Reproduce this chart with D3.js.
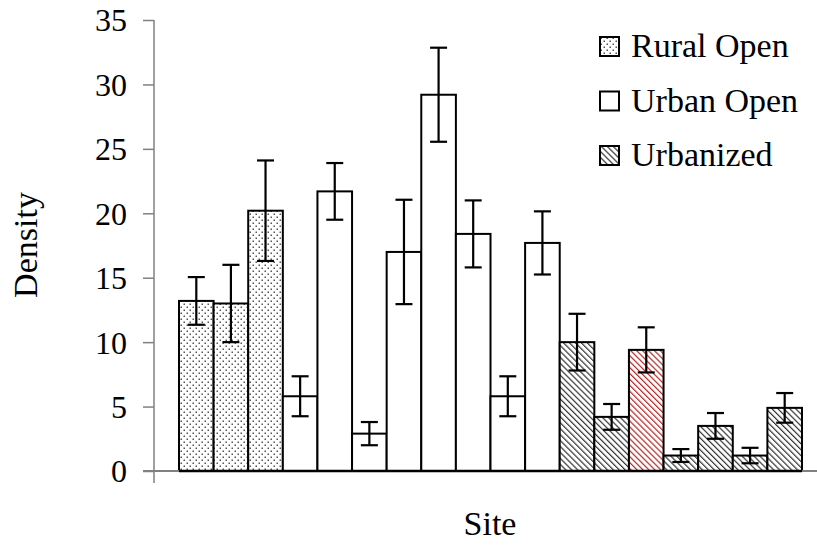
<!DOCTYPE html>
<html>
<head>
<meta charset="utf-8">
<script src="https://cdn.jsdelivr.net/npm/d3@7"></script>
<style>
  html, body { margin: 0; padding: 0; background: #fff; }
</style>
</head>
<body>
<div id="chart"></div>
<script>
// site data (left to right)
var siteTypes = ["Rural Open", "Rural Open", "Rural Open",
  "Urban Open", "Urban Open", "Urban Open", "Urban Open", "Urban Open", "Urban Open", "Urban Open", "Urban Open",
  "Urbanized", "Urbanized", "Urbanized", "Urbanized", "Urbanized", "Urbanized", "Urbanized"];
var densities = [13.2, 13.0, 20.2, 5.8, 21.7, 2.9, 17.0, 29.2, 18.4, 5.8, 17.7, 10.0, 4.2, 9.4, 1.2, 3.5, 1.2, 4.9];
var errors = [1.85, 3.0, 3.9, 1.55, 2.2, 0.9, 4.05, 3.65, 2.6, 1.55, 2.45, 2.2, 1.0, 1.75, 0.5, 1.0, 0.6, 1.15];
var highlighted = [13]; // the red hatched bar
var legendItems = ["Rural Open", "Urban Open", "Urbanized"];
var yTicks = [0, 5, 10, 15, 20, 25, 30, 35];

var width = 817, height = 548;
var serif = "'Liberation Serif', 'Times New Roman', Times, 'DejaVu Serif', serif";

var svg = d3.select("#chart").append("svg")
  .attr("width", width)
  .attr("height", height);

// fill patterns
var defs = svg.append("defs");

var dots = defs.append("pattern")
  .attr("id", "dots")
  .attr("patternUnits", "userSpaceOnUse")
  .attr("width", 6).attr("height", 6);
dots.append("rect").attr("width", 6).attr("height", 6).attr("fill", "#fff");
dots.append("rect").attr("x", 0.5).attr("y", 0.5).attr("width", 1.5).attr("height", 1.5).attr("fill", "#555");
dots.append("rect").attr("x", 3.5).attr("y", 3.5).attr("width", 1.5).attr("height", 1.5).attr("fill", "#555");

// "\" hatching
function hatch(id, color) {
  var p = defs.append("pattern")
    .attr("id", id)
    .attr("patternUnits", "userSpaceOnUse")
    .attr("width", 4.2).attr("height", 4.2)
    .attr("patternTransform", "rotate(-45)");
  p.append("rect").attr("width", 4.2).attr("height", 4.2).attr("fill", "#fff");
  p.append("line")
    .attr("x1", 0).attr("y1", 0).attr("x2", 0).attr("y2", 4.2)
    .attr("stroke", color).attr("stroke-width", 2.4);
}
hatch("hatch", "#333");
hatch("hatchRed", "#b02828");

function fillFor(type, i) {
  if (type === "Rural Open") return "url(#dots)";
  if (type === "Urban Open") return "#fff";
  return highlighted.indexOf(i) >= 0 ? "url(#hatchRed)" : "url(#hatch)";
}

var x = d3.scaleBand()
  .domain(d3.range(densities.length))
  .range([179, 802])
  .padding(0);

var y = d3.scaleLinear()
  .domain([0, 35])
  .range([471, 20]);

// y axis
var yAxis = svg.append("g")
  .attr("transform", "translate(154,0)")
  .call(d3.axisLeft(y).tickValues(yTicks).tickSize(11).tickSizeOuter(0).tickPadding(16));
yAxis.attr("font-family", null).attr("font-size", null);
yAxis.select(".domain").remove();
yAxis.selectAll(".tick line").attr("stroke", "#808080").attr("stroke-width", 1.5);
yAxis.selectAll(".tick text")
  .style("font-family", serif)
  .style("font-size", "32px")
  .attr("dy", "0.34em");

svg.append("line")
  .attr("x1", 154).attr("x2", 154)
  .attr("y1", y(35)).attr("y2", 483)
  .attr("stroke", "#808080").attr("stroke-width", 1.5);

// bars
var bars = svg.append("g");
bars.selectAll("rect")
  .data(densities)
  .enter().append("rect")
  .attr("x", function(d, i) { return x(i); })
  .attr("y", function(d) { return y(d); })
  .attr("width", x.bandwidth())
  .attr("height", function(d) { return y(0) - y(d); })
  .attr("fill", function(d, i) { return fillFor(siteTypes[i], i); })
  .attr("stroke", "#000")
  .attr("stroke-width", 2);

// x axis line (drawn over the bar bottoms)
svg.append("line")
  .attr("x1", 143).attr("x2", width)
  .attr("y1", y(0)).attr("y2", y(0))
  .attr("stroke", "#808080").attr("stroke-width", 2);
svg.append("line")
  .attr("x1", x(0)).attr("x2", x(densities.length - 1) + x.bandwidth())
  .attr("y1", y(0)).attr("y2", y(0))
  .attr("stroke", "#000").attr("stroke-width", 2.5);

// error bars
var cap = 8.5;
var err = svg.append("g").attr("stroke", "#000").attr("stroke-width", 2.2);
densities.forEach(function(d, i) {
  var cx = x(i) + x.bandwidth() / 2;
  var hi = y(d + errors[i]), lo = y(d - errors[i]);
  err.append("line").attr("x1", cx).attr("x2", cx).attr("y1", hi).attr("y2", lo);
  err.append("line").attr("x1", cx - cap).attr("x2", cx + cap).attr("y1", hi).attr("y2", hi);
  err.append("line").attr("x1", cx - cap).attr("x2", cx + cap).attr("y1", lo).attr("y2", lo);
});

// axis titles
svg.append("text")
  .attr("x", 490).attr("y", 535)
  .attr("text-anchor", "middle")
  .style("font-family", serif)
  .style("font-size", "34px")
  .text("Site");

svg.append("text")
  .attr("transform", "translate(37,245) rotate(-90)")
  .attr("text-anchor", "middle")
  .style("font-family", serif)
  .style("font-size", "34px")
  .text("Density");

// legend
var legend = svg.append("g");
legendItems.forEach(function(name, k) {
  var row = legend.append("g").attr("transform", "translate(600," + (37 + k * 54.5) + ")");
  row.append("rect")
    .attr("width", 19).attr("height", 19)
    .attr("fill", fillFor(name, -1))
    .attr("stroke", "#000").attr("stroke-width", 2);
  row.append("text")
    .attr("x", 31).attr("y", 20)
    .style("font-family", serif)
    .style("font-size", "34px")
    .text(name);
});
</script>
</body>
</html>
